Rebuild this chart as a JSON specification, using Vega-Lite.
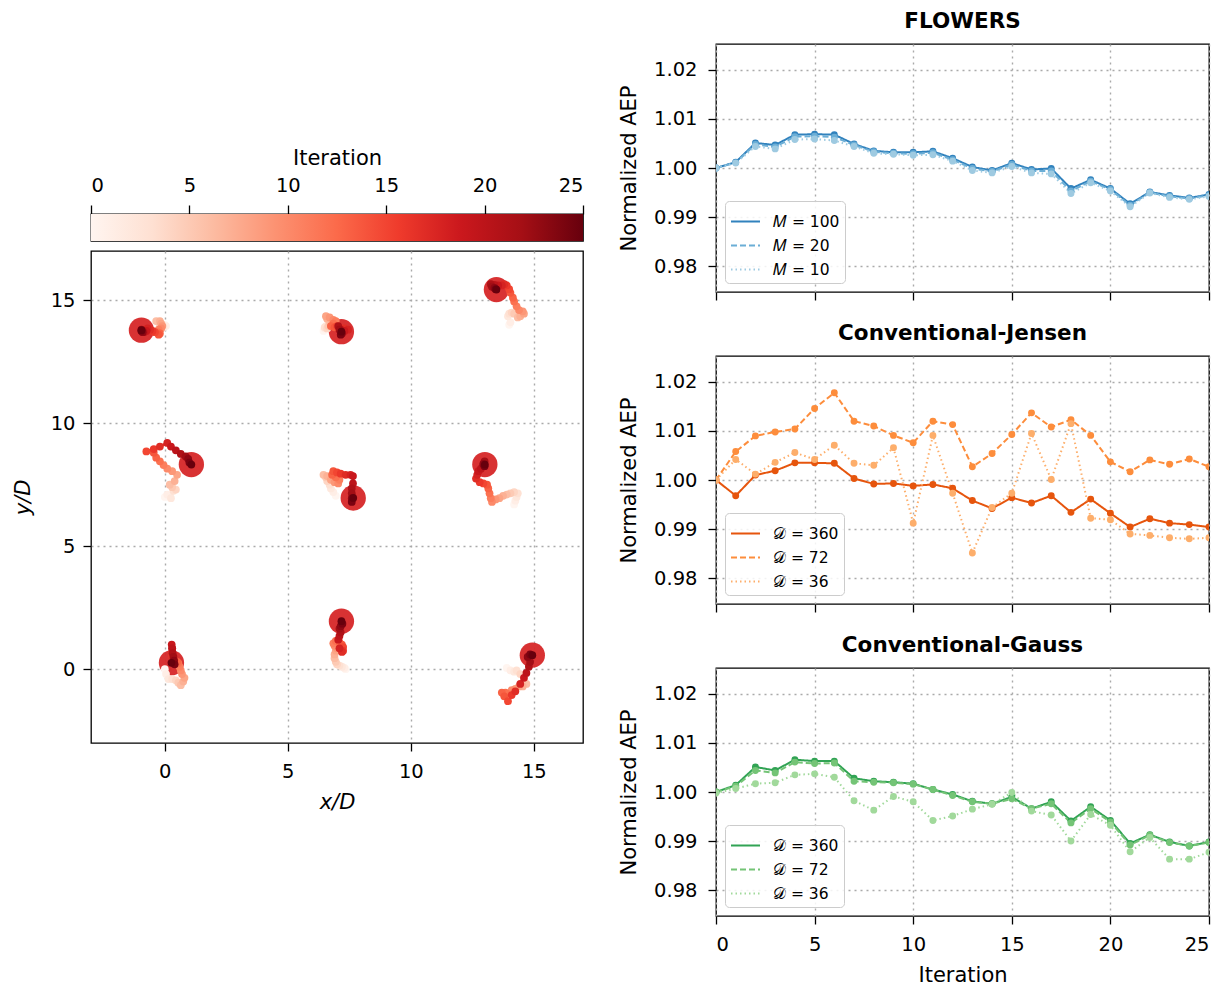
{
"$schema":"https://vega.github.io/schema/vega-lite/v6.json",
"background":"white",
"padding":{"left":11,"top":9,"right":8,"bottom":4},
"config":{
"font":"DejaVu Sans",
"view":{"stroke":"black","strokeWidth":1.3},
"axis":{"labelFontSize":19.5,"titleFontSize":21,"titleFontWeight":"normal","labelColor":"black","titleColor":"black","tickColor":"black","tickSize":8,"tickWidth":1.3,"domain":false,"gridColor":"#aaaaaa","gridDash":[2,4],"gridWidth":1.4,"labelPadding":11},
"title":{"fontSize":21.5,"fontWeight":"bold","color":"black"},
"legend":{"title":null,"orient":"bottom-left","offset":9,"symbolType":"stroke","symbolSize":841,"symbolStrokeWidth":2,"labelFontSize":15.5,"labelColor":"black","padding":5,"strokeColor":"#cccccc","fillColor":"rgba(255,255,255,0.85)","cornerRadius":4,"rowPadding":0,"labelOffset":12}
},
"datasets":{
"turb":[
{"t":1,"i":0,"x":0.0,"y":14.0},{"t":1,"i":1,"x":0.05,"y":13.95},{"t":1,"i":2,"x":-0.05,"y":13.9},{"t":1,"i":3,"x":-0.1,"y":14.0},{"t":1,"i":4,"x":-0.2,"y":14.05},{"t":1,"i":5,"x":-0.25,"y":14.1},{"t":1,"i":6,"x":-0.35,"y":14.15},{"t":1,"i":7,"x":-0.2,"y":14.15},{"t":1,"i":8,"x":-0.15,"y":14.05},{"t":1,"i":9,"x":-0.1,"y":13.95},{"t":1,"i":10,"x":-0.15,"y":13.85},{"t":1,"i":11,"x":-0.25,"y":13.8},{"t":1,"i":12,"x":-0.3,"y":13.7},{"t":1,"i":13,"x":-0.2,"y":13.65},{"t":1,"i":14,"x":-0.25,"y":13.6},{"t":1,"i":15,"x":-0.4,"y":13.7},{"t":1,"i":16,"x":-0.5,"y":13.75},{"t":1,"i":17,"x":-0.6,"y":13.8},{"t":1,"i":18,"x":-0.7,"y":13.85},{"t":1,"i":19,"x":-0.75,"y":13.75},{"t":1,"i":20,"x":-0.85,"y":13.7},{"t":1,"i":21,"x":-0.9,"y":13.75},{"t":1,"i":22,"x":-0.95,"y":13.8},{"t":1,"i":23,"x":-0.9,"y":13.7},{"t":1,"i":24,"x":-0.95,"y":13.75},{"t":1,"i":25,"x":-0.95,"y":13.78},
{"t":2,"i":0,"x":6.45,"y":13.75},{"t":2,"i":1,"x":6.5,"y":13.85},{"t":2,"i":2,"x":6.55,"y":13.95},{"t":2,"i":3,"x":6.5,"y":13.9},{"t":2,"i":4,"x":6.6,"y":13.85},{"t":2,"i":5,"x":6.65,"y":13.95},{"t":2,"i":6,"x":6.7,"y":14.1},{"t":2,"i":7,"x":6.6,"y":14.25},{"t":2,"i":8,"x":6.55,"y":14.35},{"t":2,"i":9,"x":6.7,"y":14.3},{"t":2,"i":10,"x":6.85,"y":14.2},{"t":2,"i":11,"x":6.95,"y":14.15},{"t":2,"i":12,"x":6.85,"y":14.05},{"t":2,"i":13,"x":6.75,"y":13.95},{"t":2,"i":14,"x":6.9,"y":13.9},{"t":2,"i":15,"x":7.0,"y":13.95},{"t":2,"i":16,"x":7.1,"y":13.9},{"t":2,"i":17,"x":7.3,"y":13.85},{"t":2,"i":18,"x":7.45,"y":13.8},{"t":2,"i":19,"x":7.3,"y":13.75},{"t":2,"i":20,"x":7.15,"y":13.8},{"t":2,"i":21,"x":7.05,"y":13.95},{"t":2,"i":22,"x":7.1,"y":13.8},{"t":2,"i":23,"x":7.2,"y":13.65},{"t":2,"i":24,"x":7.15,"y":13.6},{"t":2,"i":25,"x":7.18,"y":13.72},
{"t":3,"i":0,"x":14.0,"y":14.0},{"t":3,"i":1,"x":14.05,"y":14.1},{"t":3,"i":2,"x":13.95,"y":14.35},{"t":3,"i":3,"x":14.0,"y":14.45},{"t":3,"i":4,"x":14.1,"y":14.5},{"t":3,"i":5,"x":14.2,"y":14.45},{"t":3,"i":6,"x":14.35,"y":14.3},{"t":3,"i":7,"x":14.45,"y":14.35},{"t":3,"i":8,"x":14.6,"y":14.45},{"t":3,"i":9,"x":14.55,"y":14.55},{"t":3,"i":10,"x":14.4,"y":14.6},{"t":3,"i":11,"x":14.3,"y":14.75},{"t":3,"i":12,"x":14.2,"y":14.95},{"t":3,"i":13,"x":14.15,"y":15.1},{"t":3,"i":14,"x":14.05,"y":15.3},{"t":3,"i":15,"x":14.0,"y":15.45},{"t":3,"i":16,"x":13.9,"y":15.6},{"t":3,"i":17,"x":13.8,"y":15.65},{"t":3,"i":18,"x":13.7,"y":15.6},{"t":3,"i":19,"x":13.55,"y":15.6},{"t":3,"i":20,"x":13.4,"y":15.62},{"t":3,"i":21,"x":13.25,"y":15.65},{"t":3,"i":22,"x":13.3,"y":15.55},{"t":3,"i":23,"x":13.4,"y":15.5},{"t":3,"i":24,"x":13.45,"y":15.45},{"t":3,"i":25,"x":13.48,"y":15.43},
{"t":4,"i":0,"x":0.0,"y":7.0},{"t":4,"i":1,"x":0.1,"y":7.1},{"t":4,"i":2,"x":0.25,"y":6.95},{"t":4,"i":3,"x":0.35,"y":7.25},{"t":4,"i":4,"x":0.45,"y":7.3},{"t":4,"i":5,"x":0.3,"y":7.4},{"t":4,"i":6,"x":0.2,"y":7.5},{"t":4,"i":7,"x":0.4,"y":7.65},{"t":4,"i":8,"x":0.5,"y":7.9},{"t":4,"i":9,"x":0.3,"y":8.05},{"t":4,"i":10,"x":0.1,"y":8.15},{"t":4,"i":11,"x":-0.05,"y":8.3},{"t":4,"i":12,"x":-0.2,"y":8.45},{"t":4,"i":13,"x":-0.35,"y":8.6},{"t":4,"i":14,"x":-0.45,"y":8.8},{"t":4,"i":15,"x":-0.75,"y":8.85},{"t":4,"i":16,"x":-0.45,"y":8.95},{"t":4,"i":17,"x":-0.2,"y":9.05},{"t":4,"i":18,"x":0.1,"y":9.2},{"t":4,"i":19,"x":0.25,"y":9.05},{"t":4,"i":20,"x":0.45,"y":8.9},{"t":4,"i":21,"x":0.65,"y":8.75},{"t":4,"i":22,"x":0.85,"y":8.65},{"t":4,"i":23,"x":0.95,"y":8.55},{"t":4,"i":24,"x":1.0,"y":8.4},{"t":4,"i":25,"x":1.08,"y":8.32},
{"t":5,"i":0,"x":6.95,"y":7.05},{"t":5,"i":1,"x":6.85,"y":7.2},{"t":5,"i":2,"x":6.75,"y":7.35},{"t":5,"i":3,"x":6.7,"y":7.5},{"t":5,"i":4,"x":6.6,"y":7.65},{"t":5,"i":5,"x":6.55,"y":7.8},{"t":5,"i":6,"x":6.45,"y":7.9},{"t":5,"i":7,"x":6.6,"y":7.85},{"t":5,"i":8,"x":6.75,"y":7.7},{"t":5,"i":9,"x":6.9,"y":7.6},{"t":5,"i":10,"x":7.05,"y":7.55},{"t":5,"i":11,"x":7.1,"y":7.7},{"t":5,"i":12,"x":6.95,"y":7.8},{"t":5,"i":13,"x":6.8,"y":7.9},{"t":5,"i":14,"x":6.85,"y":8.05},{"t":5,"i":15,"x":7.0,"y":8.0},{"t":5,"i":16,"x":7.15,"y":7.95},{"t":5,"i":17,"x":7.35,"y":7.9},{"t":5,"i":18,"x":7.55,"y":7.9},{"t":5,"i":19,"x":7.65,"y":7.85},{"t":5,"i":20,"x":7.65,"y":7.55},{"t":5,"i":21,"x":7.6,"y":7.35},{"t":5,"i":22,"x":7.6,"y":7.15},{"t":5,"i":23,"x":7.6,"y":6.95},{"t":5,"i":24,"x":7.6,"y":6.8},{"t":5,"i":25,"x":7.66,"y":6.96},
{"t":6,"i":0,"x":14.2,"y":6.7},{"t":6,"i":1,"x":14.25,"y":6.85},{"t":6,"i":2,"x":14.3,"y":7.0},{"t":6,"i":3,"x":14.35,"y":7.15},{"t":6,"i":4,"x":14.2,"y":7.2},{"t":6,"i":5,"x":14.05,"y":7.15},{"t":6,"i":6,"x":13.9,"y":7.1},{"t":6,"i":7,"x":13.75,"y":7.05},{"t":6,"i":8,"x":13.6,"y":6.95},{"t":6,"i":9,"x":13.45,"y":6.9},{"t":6,"i":10,"x":13.3,"y":6.8},{"t":6,"i":11,"x":13.25,"y":6.95},{"t":6,"i":12,"x":13.2,"y":7.15},{"t":6,"i":13,"x":13.15,"y":7.35},{"t":6,"i":14,"x":13.1,"y":7.5},{"t":6,"i":15,"x":12.95,"y":7.55},{"t":6,"i":16,"x":12.8,"y":7.6},{"t":6,"i":17,"x":12.65,"y":7.75},{"t":6,"i":18,"x":12.7,"y":7.9},{"t":6,"i":19,"x":12.75,"y":8.05},{"t":6,"i":20,"x":12.85,"y":8.15},{"t":6,"i":21,"x":12.95,"y":8.3},{"t":6,"i":22,"x":13.0,"y":8.45},{"t":6,"i":23,"x":12.95,"y":8.35},{"t":6,"i":24,"x":13.0,"y":8.25},{"t":6,"i":25,"x":13.01,"y":8.32},
{"t":7,"i":0,"x":0.0,"y":0.0},{"t":7,"i":1,"x":0.05,"y":-0.2},{"t":7,"i":2,"x":0.15,"y":-0.4},{"t":7,"i":3,"x":0.3,"y":-0.4},{"t":7,"i":4,"x":0.45,"y":-0.45},{"t":7,"i":5,"x":0.55,"y":-0.55},{"t":7,"i":6,"x":0.65,"y":-0.65},{"t":7,"i":7,"x":0.75,"y":-0.5},{"t":7,"i":8,"x":0.8,"y":-0.35},{"t":7,"i":9,"x":0.7,"y":-0.2},{"t":7,"i":10,"x":0.65,"y":-0.05},{"t":7,"i":11,"x":0.6,"y":0.1},{"t":7,"i":12,"x":0.55,"y":0.25},{"t":7,"i":13,"x":0.5,"y":0.3},{"t":7,"i":14,"x":0.4,"y":0.35},{"t":7,"i":15,"x":0.35,"y":0.4},{"t":7,"i":16,"x":0.3,"y":0.55},{"t":7,"i":17,"x":0.3,"y":0.7},{"t":7,"i":18,"x":0.3,"y":0.85},{"t":7,"i":19,"x":0.28,"y":1.0},{"t":7,"i":20,"x":0.3,"y":0.85},{"t":7,"i":21,"x":0.32,"y":0.65},{"t":7,"i":22,"x":0.35,"y":0.5},{"t":7,"i":23,"x":0.38,"y":0.35},{"t":7,"i":24,"x":0.4,"y":0.2},{"t":7,"i":25,"x":0.27,"y":0.26},
{"t":8,"i":0,"x":7.35,"y":0.0},{"t":8,"i":1,"x":7.3,"y":0.05},{"t":8,"i":2,"x":7.2,"y":0.1},{"t":8,"i":3,"x":7.1,"y":0.15},{"t":8,"i":4,"x":7.0,"y":0.2},{"t":8,"i":5,"x":6.95,"y":0.3},{"t":8,"i":6,"x":6.9,"y":0.45},{"t":8,"i":7,"x":6.9,"y":0.6},{"t":8,"i":8,"x":6.95,"y":0.75},{"t":8,"i":9,"x":7.0,"y":0.85},{"t":8,"i":10,"x":6.9,"y":0.95},{"t":8,"i":11,"x":6.85,"y":1.05},{"t":8,"i":12,"x":6.95,"y":1.15},{"t":8,"i":13,"x":7.1,"y":1.1},{"t":8,"i":14,"x":7.2,"y":1.0},{"t":8,"i":15,"x":7.25,"y":0.9},{"t":8,"i":16,"x":7.25,"y":0.75},{"t":8,"i":17,"x":7.2,"y":0.7},{"t":8,"i":18,"x":7.1,"y":0.85},{"t":8,"i":19,"x":7.05,"y":1.2},{"t":8,"i":20,"x":7.1,"y":1.35},{"t":8,"i":21,"x":7.15,"y":1.5},{"t":8,"i":22,"x":7.1,"y":1.65},{"t":8,"i":23,"x":7.15,"y":1.75},{"t":8,"i":24,"x":7.22,"y":1.85},{"t":8,"i":25,"x":7.18,"y":1.95},
{"t":9,"i":0,"x":13.9,"y":0.05},{"t":9,"i":1,"x":14.05,"y":-0.05},{"t":9,"i":2,"x":14.2,"y":-0.1},{"t":9,"i":3,"x":14.3,"y":-0.05},{"t":9,"i":4,"x":14.45,"y":-0.2},{"t":9,"i":5,"x":14.6,"y":-0.4},{"t":9,"i":6,"x":14.7,"y":-0.6},{"t":9,"i":7,"x":14.55,"y":-0.7},{"t":9,"i":8,"x":14.4,"y":-0.7},{"t":9,"i":9,"x":14.25,"y":-0.8},{"t":9,"i":10,"x":14.1,"y":-0.85},{"t":9,"i":11,"x":14.0,"y":-1.0},{"t":9,"i":12,"x":13.85,"y":-0.95},{"t":9,"i":13,"x":13.7,"y":-0.95},{"t":9,"i":14,"x":13.8,"y":-1.1},{"t":9,"i":15,"x":13.95,"y":-1.3},{"t":9,"i":16,"x":14.1,"y":-1.05},{"t":9,"i":17,"x":14.25,"y":-0.9},{"t":9,"i":18,"x":14.45,"y":-0.6},{"t":9,"i":19,"x":14.6,"y":-0.35},{"t":9,"i":20,"x":14.7,"y":-0.15},{"t":9,"i":21,"x":14.8,"y":0.1},{"t":9,"i":22,"x":14.85,"y":0.3},{"t":9,"i":23,"x":14.75,"y":0.5},{"t":9,"i":24,"x":14.85,"y":0.6},{"t":9,"i":25,"x":14.94,"y":0.57}
],
"aep":[
{"p":"F","s":"𝑀 = 100","i":0,"v":1.0},{"p":"F","s":"𝑀 = 100","i":1,"v":1.0012},{"p":"F","s":"𝑀 = 100","i":2,"v":1.0051},{"p":"F","s":"𝑀 = 100","i":3,"v":1.0047},{"p":"F","s":"𝑀 = 100","i":4,"v":1.0068},{"p":"F","s":"𝑀 = 100","i":5,"v":1.0069},{"p":"F","s":"𝑀 = 100","i":6,"v":1.0068},{"p":"F","s":"𝑀 = 100","i":7,"v":1.0049},{"p":"F","s":"𝑀 = 100","i":8,"v":1.0035},{"p":"F","s":"𝑀 = 100","i":9,"v":1.0032},{"p":"F","s":"𝑀 = 100","i":10,"v":1.0032},{"p":"F","s":"𝑀 = 100","i":11,"v":1.0034},{"p":"F","s":"𝑀 = 100","i":12,"v":1.002},{"p":"F","s":"𝑀 = 100","i":13,"v":1.0002},{"p":"F","s":"𝑀 = 100","i":14,"v":0.9995},{"p":"F","s":"𝑀 = 100","i":15,"v":1.001},{"p":"F","s":"𝑀 = 100","i":16,"v":0.9997},{"p":"F","s":"𝑀 = 100","i":17,"v":0.9999},{"p":"F","s":"𝑀 = 100","i":18,"v":0.9958},{"p":"F","s":"𝑀 = 100","i":19,"v":0.9976},{"p":"F","s":"𝑀 = 100","i":20,"v":0.9958},{"p":"F","s":"𝑀 = 100","i":21,"v":0.9927},{"p":"F","s":"𝑀 = 100","i":22,"v":0.9951},{"p":"F","s":"𝑀 = 100","i":23,"v":0.9944},{"p":"F","s":"𝑀 = 100","i":24,"v":0.9939},{"p":"F","s":"𝑀 = 100","i":25,"v":0.9946},
{"p":"F","s":"𝑀 = 20","i":0,"v":1.0},{"p":"F","s":"𝑀 = 20","i":1,"v":1.0011},{"p":"F","s":"𝑀 = 20","i":2,"v":1.0048},{"p":"F","s":"𝑀 = 20","i":3,"v":1.0043},{"p":"F","s":"𝑀 = 20","i":4,"v":1.0064},{"p":"F","s":"𝑀 = 20","i":5,"v":1.0065},{"p":"F","s":"𝑀 = 20","i":6,"v":1.0063},{"p":"F","s":"𝑀 = 20","i":7,"v":1.0047},{"p":"F","s":"𝑀 = 20","i":8,"v":1.0033},{"p":"F","s":"𝑀 = 20","i":9,"v":1.003},{"p":"F","s":"𝑀 = 20","i":10,"v":1.0029},{"p":"F","s":"𝑀 = 20","i":11,"v":1.0031},{"p":"F","s":"𝑀 = 20","i":12,"v":1.0017},{"p":"F","s":"𝑀 = 20","i":13,"v":0.9999},{"p":"F","s":"𝑀 = 20","i":14,"v":0.9993},{"p":"F","s":"𝑀 = 20","i":15,"v":1.0007},{"p":"F","s":"𝑀 = 20","i":16,"v":0.9994},{"p":"F","s":"𝑀 = 20","i":17,"v":0.9994},{"p":"F","s":"𝑀 = 20","i":18,"v":0.9953},{"p":"F","s":"𝑀 = 20","i":19,"v":0.9973},{"p":"F","s":"𝑀 = 20","i":20,"v":0.9956},{"p":"F","s":"𝑀 = 20","i":21,"v":0.9924},{"p":"F","s":"𝑀 = 20","i":22,"v":0.995},{"p":"F","s":"𝑀 = 20","i":23,"v":0.9942},{"p":"F","s":"𝑀 = 20","i":24,"v":0.9938},{"p":"F","s":"𝑀 = 20","i":25,"v":0.9944},
{"p":"F","s":"𝑀 = 10","i":0,"v":1.0},{"p":"F","s":"𝑀 = 10","i":1,"v":1.001},{"p":"F","s":"𝑀 = 10","i":2,"v":1.0044},{"p":"F","s":"𝑀 = 10","i":3,"v":1.0039},{"p":"F","s":"𝑀 = 10","i":4,"v":1.0058},{"p":"F","s":"𝑀 = 10","i":5,"v":1.0059},{"p":"F","s":"𝑀 = 10","i":6,"v":1.0056},{"p":"F","s":"𝑀 = 10","i":7,"v":1.0044},{"p":"F","s":"𝑀 = 10","i":8,"v":1.003},{"p":"F","s":"𝑀 = 10","i":9,"v":1.0028},{"p":"F","s":"𝑀 = 10","i":10,"v":1.0026},{"p":"F","s":"𝑀 = 10","i":11,"v":1.0027},{"p":"F","s":"𝑀 = 10","i":12,"v":1.0014},{"p":"F","s":"𝑀 = 10","i":13,"v":0.9995},{"p":"F","s":"𝑀 = 10","i":14,"v":0.999},{"p":"F","s":"𝑀 = 10","i":15,"v":1.0003},{"p":"F","s":"𝑀 = 10","i":16,"v":0.999},{"p":"F","s":"𝑀 = 10","i":17,"v":0.9988},{"p":"F","s":"𝑀 = 10","i":18,"v":0.9948},{"p":"F","s":"𝑀 = 10","i":19,"v":0.997},{"p":"F","s":"𝑀 = 10","i":20,"v":0.9953},{"p":"F","s":"𝑀 = 10","i":21,"v":0.9921},{"p":"F","s":"𝑀 = 10","i":22,"v":0.9949},{"p":"F","s":"𝑀 = 10","i":23,"v":0.994},{"p":"F","s":"𝑀 = 10","i":24,"v":0.9936},{"p":"F","s":"𝑀 = 10","i":25,"v":0.9942},
{"p":"J","s":"𝒟 = 360","i":0,"v":1.0},{"p":"J","s":"𝒟 = 360","i":1,"v":0.9968},{"p":"J","s":"𝒟 = 360","i":2,"v":1.001},{"p":"J","s":"𝒟 = 360","i":3,"v":1.0019},{"p":"J","s":"𝒟 = 360","i":4,"v":1.0035},{"p":"J","s":"𝒟 = 360","i":5,"v":1.0035},{"p":"J","s":"𝒟 = 360","i":6,"v":1.0034},{"p":"J","s":"𝒟 = 360","i":7,"v":1.0003},{"p":"J","s":"𝒟 = 360","i":8,"v":0.9992},{"p":"J","s":"𝒟 = 360","i":9,"v":0.9993},{"p":"J","s":"𝒟 = 360","i":10,"v":0.9988},{"p":"J","s":"𝒟 = 360","i":11,"v":0.9991},{"p":"J","s":"𝒟 = 360","i":12,"v":0.9983},{"p":"J","s":"𝒟 = 360","i":13,"v":0.9958},{"p":"J","s":"𝒟 = 360","i":14,"v":0.9942},{"p":"J","s":"𝒟 = 360","i":15,"v":0.9964},{"p":"J","s":"𝒟 = 360","i":16,"v":0.9953},{"p":"J","s":"𝒟 = 360","i":17,"v":0.9968},{"p":"J","s":"𝒟 = 360","i":18,"v":0.9934},{"p":"J","s":"𝒟 = 360","i":19,"v":0.9961},{"p":"J","s":"𝒟 = 360","i":20,"v":0.9932},{"p":"J","s":"𝒟 = 360","i":21,"v":0.9904},{"p":"J","s":"𝒟 = 360","i":22,"v":0.9921},{"p":"J","s":"𝒟 = 360","i":23,"v":0.9912},{"p":"J","s":"𝒟 = 360","i":24,"v":0.9909},{"p":"J","s":"𝒟 = 360","i":25,"v":0.9904},
{"p":"J","s":"𝒟 = 72","i":0,"v":1.0},{"p":"J","s":"𝒟 = 72","i":1,"v":1.0058},{"p":"J","s":"𝒟 = 72","i":2,"v":1.009},{"p":"J","s":"𝒟 = 72","i":3,"v":1.0098},{"p":"J","s":"𝒟 = 72","i":4,"v":1.0104},{"p":"J","s":"𝒟 = 72","i":5,"v":1.0146},{"p":"J","s":"𝒟 = 72","i":6,"v":1.0178},{"p":"J","s":"𝒟 = 72","i":7,"v":1.012},{"p":"J","s":"𝒟 = 72","i":8,"v":1.011},{"p":"J","s":"𝒟 = 72","i":9,"v":1.0091},{"p":"J","s":"𝒟 = 72","i":10,"v":1.0076},{"p":"J","s":"𝒟 = 72","i":11,"v":1.012},{"p":"J","s":"𝒟 = 72","i":12,"v":1.0113},{"p":"J","s":"𝒟 = 72","i":13,"v":1.0027},{"p":"J","s":"𝒟 = 72","i":14,"v":1.0054},{"p":"J","s":"𝒟 = 72","i":15,"v":1.0093},{"p":"J","s":"𝒟 = 72","i":16,"v":1.0137},{"p":"J","s":"𝒟 = 72","i":17,"v":1.0108},{"p":"J","s":"𝒟 = 72","i":18,"v":1.0123},{"p":"J","s":"𝒟 = 72","i":19,"v":1.0091},{"p":"J","s":"𝒟 = 72","i":20,"v":1.0037},{"p":"J","s":"𝒟 = 72","i":21,"v":1.0017},{"p":"J","s":"𝒟 = 72","i":22,"v":1.0041},{"p":"J","s":"𝒟 = 72","i":23,"v":1.0032},{"p":"J","s":"𝒟 = 72","i":24,"v":1.0043},{"p":"J","s":"𝒟 = 72","i":25,"v":1.0027},
{"p":"J","s":"𝒟 = 36","i":0,"v":1.0},{"p":"J","s":"𝒟 = 36","i":1,"v":1.0042},{"p":"J","s":"𝒟 = 36","i":2,"v":1.0012},{"p":"J","s":"𝒟 = 36","i":3,"v":1.0036},{"p":"J","s":"𝒟 = 36","i":4,"v":1.0056},{"p":"J","s":"𝒟 = 36","i":5,"v":1.0042},{"p":"J","s":"𝒟 = 36","i":6,"v":1.0071},{"p":"J","s":"𝒟 = 36","i":7,"v":1.0034},{"p":"J","s":"𝒟 = 36","i":8,"v":1.003},{"p":"J","s":"𝒟 = 36","i":9,"v":1.0066},{"p":"J","s":"𝒟 = 36","i":10,"v":0.9912},{"p":"J","s":"𝒟 = 36","i":11,"v":1.0091},{"p":"J","s":"𝒟 = 36","i":12,"v":0.9973},{"p":"J","s":"𝒟 = 36","i":13,"v":0.9851},{"p":"J","s":"𝒟 = 36","i":14,"v":0.9944},{"p":"J","s":"𝒟 = 36","i":15,"v":0.9973},{"p":"J","s":"𝒟 = 36","i":16,"v":1.0095},{"p":"J","s":"𝒟 = 36","i":17,"v":1.0001},{"p":"J","s":"𝒟 = 36","i":18,"v":1.0115},{"p":"J","s":"𝒟 = 36","i":19,"v":0.9922},{"p":"J","s":"𝒟 = 36","i":20,"v":0.9919},{"p":"J","s":"𝒟 = 36","i":21,"v":0.989},{"p":"J","s":"𝒟 = 36","i":22,"v":0.9887},{"p":"J","s":"𝒟 = 36","i":23,"v":0.9882},{"p":"J","s":"𝒟 = 36","i":24,"v":0.988},{"p":"J","s":"𝒟 = 36","i":25,"v":0.9882},
{"p":"G","s":"𝒟 = 360","i":0,"v":1.0},{"p":"G","s":"𝒟 = 360","i":1,"v":1.0014},{"p":"G","s":"𝒟 = 360","i":2,"v":1.0051},{"p":"G","s":"𝒟 = 360","i":3,"v":1.0044},{"p":"G","s":"𝒟 = 360","i":4,"v":1.0066},{"p":"G","s":"𝒟 = 360","i":5,"v":1.0063},{"p":"G","s":"𝒟 = 360","i":6,"v":1.0063},{"p":"G","s":"𝒟 = 360","i":7,"v":1.0028},{"p":"G","s":"𝒟 = 360","i":8,"v":1.0022},{"p":"G","s":"𝒟 = 360","i":9,"v":1.002},{"p":"G","s":"𝒟 = 360","i":10,"v":1.0017},{"p":"G","s":"𝒟 = 360","i":11,"v":1.0005},{"p":"G","s":"𝒟 = 360","i":12,"v":0.9995},{"p":"G","s":"𝒟 = 360","i":13,"v":0.9981},{"p":"G","s":"𝒟 = 360","i":14,"v":0.9976},{"p":"G","s":"𝒟 = 360","i":15,"v":0.999},{"p":"G","s":"𝒟 = 360","i":16,"v":0.9966},{"p":"G","s":"𝒟 = 360","i":17,"v":0.998},{"p":"G","s":"𝒟 = 360","i":18,"v":0.9941},{"p":"G","s":"𝒟 = 360","i":19,"v":0.997},{"p":"G","s":"𝒟 = 360","i":20,"v":0.9942},{"p":"G","s":"𝒟 = 360","i":21,"v":0.9895},{"p":"G","s":"𝒟 = 360","i":22,"v":0.9913},{"p":"G","s":"𝒟 = 360","i":23,"v":0.9898},{"p":"G","s":"𝒟 = 360","i":24,"v":0.989},{"p":"G","s":"𝒟 = 360","i":25,"v":0.9898},
{"p":"G","s":"𝒟 = 72","i":0,"v":1.0},{"p":"G","s":"𝒟 = 72","i":1,"v":1.0012},{"p":"G","s":"𝒟 = 72","i":2,"v":1.0044},{"p":"G","s":"𝒟 = 72","i":3,"v":1.0039},{"p":"G","s":"𝒟 = 72","i":4,"v":1.0061},{"p":"G","s":"𝒟 = 72","i":5,"v":1.0058},{"p":"G","s":"𝒟 = 72","i":6,"v":1.0059},{"p":"G","s":"𝒟 = 72","i":7,"v":1.0022},{"p":"G","s":"𝒟 = 72","i":8,"v":1.002},{"p":"G","s":"𝒟 = 72","i":9,"v":1.0019},{"p":"G","s":"𝒟 = 72","i":10,"v":1.0016},{"p":"G","s":"𝒟 = 72","i":11,"v":1.0005},{"p":"G","s":"𝒟 = 72","i":12,"v":0.9993},{"p":"G","s":"𝒟 = 72","i":13,"v":0.998},{"p":"G","s":"𝒟 = 72","i":14,"v":0.9976},{"p":"G","s":"𝒟 = 72","i":15,"v":0.9986},{"p":"G","s":"𝒟 = 72","i":16,"v":0.9966},{"p":"G","s":"𝒟 = 72","i":17,"v":0.9976},{"p":"G","s":"𝒟 = 72","i":18,"v":0.9937},{"p":"G","s":"𝒟 = 72","i":19,"v":0.9966},{"p":"G","s":"𝒟 = 72","i":20,"v":0.9939},{"p":"G","s":"𝒟 = 72","i":21,"v":0.9892},{"p":"G","s":"𝒟 = 72","i":22,"v":0.9912},{"p":"G","s":"𝒟 = 72","i":23,"v":0.9897},{"p":"G","s":"𝒟 = 72","i":24,"v":0.989},{"p":"G","s":"𝒟 = 72","i":25,"v":0.9897},
{"p":"G","s":"𝒟 = 36","i":0,"v":0.9998},{"p":"G","s":"𝒟 = 36","i":1,"v":1.0007},{"p":"G","s":"𝒟 = 36","i":2,"v":1.0017},{"p":"G","s":"𝒟 = 36","i":3,"v":1.0019},{"p":"G","s":"𝒟 = 36","i":4,"v":1.0035},{"p":"G","s":"𝒟 = 36","i":5,"v":1.0037},{"p":"G","s":"𝒟 = 36","i":6,"v":1.003},{"p":"G","s":"𝒟 = 36","i":7,"v":0.9982},{"p":"G","s":"𝒟 = 36","i":8,"v":0.9963},{"p":"G","s":"𝒟 = 36","i":9,"v":0.9991},{"p":"G","s":"𝒟 = 36","i":10,"v":0.998},{"p":"G","s":"𝒟 = 36","i":11,"v":0.9942},{"p":"G","s":"𝒟 = 36","i":12,"v":0.9951},{"p":"G","s":"𝒟 = 36","i":13,"v":0.9965},{"p":"G","s":"𝒟 = 36","i":14,"v":0.9975},{"p":"G","s":"𝒟 = 36","i":15,"v":0.9999},{"p":"G","s":"𝒟 = 36","i":16,"v":0.9961},{"p":"G","s":"𝒟 = 36","i":17,"v":0.9953},{"p":"G","s":"𝒟 = 36","i":18,"v":0.99},{"p":"G","s":"𝒟 = 36","i":19,"v":0.9954},{"p":"G","s":"𝒟 = 36","i":20,"v":0.9932},{"p":"G","s":"𝒟 = 36","i":21,"v":0.9878},{"p":"G","s":"𝒟 = 36","i":22,"v":0.9907},{"p":"G","s":"𝒟 = 36","i":23,"v":0.9863},{"p":"G","s":"𝒟 = 36","i":24,"v":0.9863},{"p":"G","s":"𝒟 = 36","i":25,"v":0.9877}
]
},
"hconcat":[
{
"vconcat":[
{
"width":492,"height":94,
"view":{"stroke":null},
"data":{"values":[]},
"mark":"rect",
"encoding":{}
},
{
"width":492,"height":27,
"data":{"values":[{"a":0,"b":25}]},
"mark":{"type":"rect","fill":{"gradient":"linear","x1":0,"y1":0,"x2":1,"y2":0,"stops":[{"offset":0,"color":"#fff5f0"},{"offset":0.125,"color":"#fee0d2"},{"offset":0.25,"color":"#fcbba1"},{"offset":0.375,"color":"#fc9272"},{"offset":0.5,"color":"#fb6a4a"},{"offset":0.625,"color":"#ef3b2c"},{"offset":0.75,"color":"#cb181d"},{"offset":0.875,"color":"#a50f15"},{"offset":1,"color":"#67000d"}]}},
"encoding":{
"x":{"field":"a","type":"quantitative","scale":{"domain":[0,25],"nice":false,"zero":false},"axis":{"orient":"top","values":[0,5,10,15,20,25],"title":"Iteration","grid":false,"titlePadding":7,"tickSize":9,"labelPadding":10}},
"x2":{"field":"b"}
}
},
{
"width":492,"height":492,
"data":{"name":"turb"},
"layer":[
{"transform":[{"filter":"datum.i == 25"}],
"mark":{"type":"circle","size":640,"color":"#d62728","opacity":0.95},
"encoding":{
"x":{"field":"x","type":"quantitative","scale":{"domain":[-3,17],"nice":false,"zero":false},"axis":{"values":[0,5,10,15],"title":"x/D","titleFontStyle":"italic","grid":true,"titlePadding":11}},
"y":{"field":"y","type":"quantitative","scale":{"domain":[-3,17],"nice":false,"zero":false},"axis":{"values":[0,5,10,15],"title":"y/D","titleFontStyle":"italic","grid":true,"titlePadding":17,"labelPadding":8}}
}},
{"transform":[{"window":[{"op":"lead","field":"x","as":"x2"},{"op":"lead","field":"y","as":"y2"}],"groupby":["t"],"sort":[{"field":"i"}]},{"filter":"datum.x2 != null"}],
"mark":{"type":"rule","strokeWidth":2.7},
"encoding":{
"x":{"field":"x","type":"quantitative"},
"y":{"field":"y","type":"quantitative"},
"x2":{"field":"x2"},
"y2":{"field":"y2"},
"color":{"field":"i","type":"quantitative","scale":{"domain":[0,3.125,6.25,9.375,12.5,15.625,18.75,21.875,25],"range":["#fff5f0","#fee0d2","#fcbba1","#fc9272","#fb6a4a","#ef3b2c","#cb181d","#a50f15","#67000d"]},"legend":null}
}},
{"mark":{"type":"circle","size":60,"opacity":1},
"encoding":{
"x":{"field":"x","type":"quantitative"},
"y":{"field":"y","type":"quantitative"},
"color":{"field":"i","type":"quantitative","legend":null}
}}
]
}
],
"spacing":8,
"resolve":{"scale":{"x":"independent","y":"independent","color":"independent"}}
},
{
"vconcat":[
{
"title":{"text":"FLOWERS","offset":12},
"width":493,"height":248,
"data":{"name":"aep"},
"transform":[{"filter":"datum.p == 'F'"}],
"encoding":{
"x":{"field":"i","type":"quantitative","scale":{"domain":[0,25],"nice":false,"zero":false},"axis":{"values":[0,5,10,15,20,25],"labels":false,"title":null}},
"y":{"field":"v","type":"quantitative","scale":{"domain":[0.9747,1.0253],"nice":false,"zero":false},"axis":{"values":[0.98,0.99,1.0,1.01,1.02],"format":".2f","title":"Normalized AEP","titlePadding":14,"labelPadding":11}}
},
"layer":[
{"mark":{"type":"line","strokeWidth":2,"clip":true},
"encoding":{
"color":{"field":"s","type":"nominal","scale":{"domain":["𝑀 = 100","𝑀 = 20","𝑀 = 10"],"range":["#3182bd","#6baed6","#9ecae1"]},"legend":{"symbolType":"stroke"}},
"strokeDash":{"field":"s","type":"nominal","scale":{"domain":["𝑀 = 100","𝑀 = 20","𝑀 = 10"],"range":[[1,0],[6,3],[1.5,3]]},"legend":{"symbolType":"stroke"}}
}},
{"mark":{"type":"circle","size":48,"opacity":1,"clip":true},
"encoding":{"color":{"field":"s","type":"nominal"}}}
]
},
{
"title":{"text":"Conventional-Jensen","offset":12},
"width":493,"height":248,
"data":{"name":"aep"},
"transform":[{"filter":"datum.p == 'J'"}],
"encoding":{
"x":{"field":"i","type":"quantitative","scale":{"domain":[0,25],"nice":false,"zero":false},"axis":{"values":[0,5,10,15,20,25],"labels":false,"title":null}},
"y":{"field":"v","type":"quantitative","scale":{"domain":[0.9747,1.0253],"nice":false,"zero":false},"axis":{"values":[0.98,0.99,1.0,1.01,1.02],"format":".2f","title":"Normalized AEP","titlePadding":14,"labelPadding":11}}
},
"layer":[
{"mark":{"type":"line","strokeWidth":2,"clip":true},
"encoding":{
"color":{"field":"s","type":"nominal","scale":{"domain":["𝒟 = 360","𝒟 = 72","𝒟 = 36"],"range":["#e6550d","#fd8d3c","#fdae6b"]},"legend":{"symbolType":"stroke"}},
"strokeDash":{"field":"s","type":"nominal","scale":{"domain":["𝒟 = 360","𝒟 = 72","𝒟 = 36"],"range":[[1,0],[6,3],[1.5,3]]},"legend":{"symbolType":"stroke"}}
}},
{"mark":{"type":"circle","size":48,"opacity":1,"clip":true},
"encoding":{"color":{"field":"s","type":"nominal"}}}
]
},
{
"title":{"text":"Conventional-Gauss","offset":12},
"width":493,"height":248,
"data":{"name":"aep"},
"transform":[{"filter":"datum.p == 'G'"}],
"encoding":{
"x":{"field":"i","type":"quantitative","scale":{"domain":[0,25],"nice":false,"zero":false},"axis":{"values":[0,5,10,15,20,25],"title":"Iteration","titlePadding":11}},
"y":{"field":"v","type":"quantitative","scale":{"domain":[0.9747,1.0253],"nice":false,"zero":false},"axis":{"values":[0.98,0.99,1.0,1.01,1.02],"format":".2f","title":"Normalized AEP","titlePadding":14,"labelPadding":11}}
},
"layer":[
{"mark":{"type":"line","strokeWidth":2,"clip":true},
"encoding":{
"color":{"field":"s","type":"nominal","scale":{"domain":["𝒟 = 360","𝒟 = 72","𝒟 = 36"],"range":["#31a354","#74c476","#a1d99b"]},"legend":{"symbolType":"stroke"}},
"strokeDash":{"field":"s","type":"nominal","scale":{"domain":["𝒟 = 360","𝒟 = 72","𝒟 = 36"],"range":[[1,0],[6,3],[1.5,3]]},"legend":{"symbolType":"stroke"}}
}},
{"mark":{"type":"circle","size":48,"opacity":1,"clip":true},
"encoding":{"color":{"field":"s","type":"nominal"}}}
]
}
],
"spacing":19,
"resolve":{"scale":{"x":"independent","y":"independent","color":"independent","strokeDash":"independent"},"legend":{"color":"independent","strokeDash":"independent"}}
}
],
"spacing":32,
"resolve":{"scale":{"x":"independent","y":"independent","color":"independent","strokeDash":"independent"}}
}
